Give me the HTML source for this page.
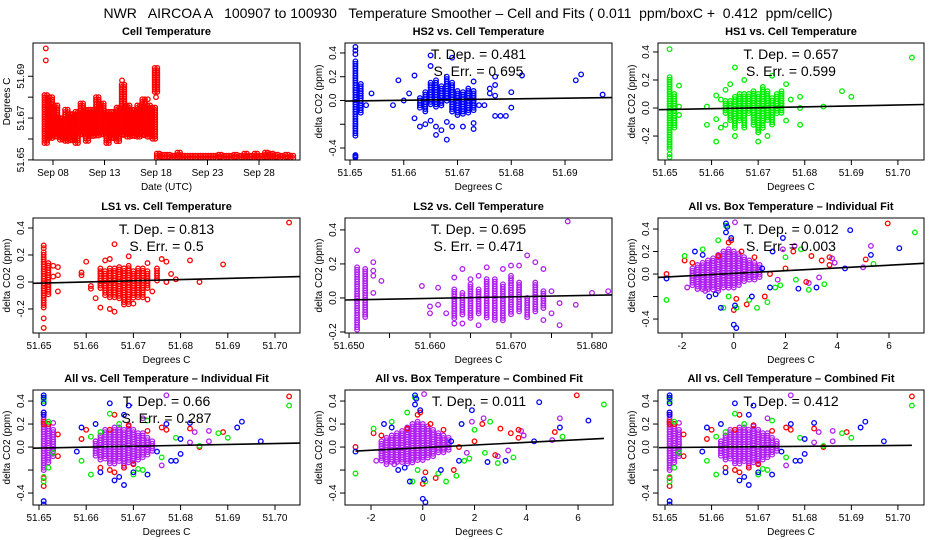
<!DOCTYPE html>
<html><head><meta charset="utf-8"><title>NWR AIRCOA Temperature Smoother</title>
<style>
html,body{margin:0;padding:0;background:#fff;}
svg{display:block;font-family:"Liberation Sans",Arial,sans-serif;}
</style></head>
<body>
<svg id="chart" width="936" height="540" viewBox="0 0 936 540" xmlns="http://www.w3.org/2000/svg">
<rect x="0" y="0" width="936" height="540" fill="#fff"/>
<text x="468" y="18" text-anchor="middle" font-size="14" style="white-space:pre" xml:space="preserve">NWR   AIRCOA A   100907 to 100930   Temperature Smoother – Cell and Fits ( 0.011  ppm/boxC +  0.412  ppm/cellC)</text>
</svg>
<script>
// ---------- DATA ----------
const cellTempCols = [[7.3,51.657,51.681],[7.8,51.660,51.680],[8.3,51.660,51.676],[8.8,51.659,51.670],[9.3,51.658,51.674],[9.8,51.659,51.672],[10.3,51.658,51.673],[10.8,51.661,51.677],[11.3,51.658,51.674],[11.8,51.661,51.674],[12.3,51.661,51.680],[12.8,51.662,51.677],[13.3,51.658,51.673],[13.8,51.660,51.673],[14.3,51.658,51.675],[14.8,51.661,51.686],[15.3,51.660,51.676],[15.8,51.661,51.674],[16.3,51.660,51.676],[16.8,51.661,51.679],[17.3,51.660,51.676],[17.8,51.660,51.675],[18.0,51.682,51.694],
[18.2,51.6505,51.653],[18.7,51.6505,51.6525],[19.2,51.6505,51.6525],[19.7,51.6505,51.652],[20.2,51.6505,51.6535],[20.7,51.6505,51.652],[21.2,51.6505,51.652],[21.7,51.6505,51.652],[22.2,51.6505,51.652],[22.7,51.6505,51.652],[23.2,51.6505,51.652],[23.7,51.6505,51.652],[24.2,51.6505,51.6525],[24.7,51.6505,51.652],[25.2,51.6505,51.652],[25.7,51.6505,51.6525],[26.2,51.6505,51.652],[26.7,51.6505,51.653],[27.2,51.6505,51.652],[27.7,51.6505,51.653],[28.2,51.6505,51.652],[28.7,51.6505,51.6535],[29.2,51.6505,51.653],[29.7,51.6505,51.6525],[30.2,51.6505,51.652],[30.7,51.6505,51.6525],[31.2,51.6505,51.652]];
const cellTempPts = [[7.3,51.7033],[7.3,51.6976],[7.6,51.661],[18.0,51.680],[17.2,51.679],[14.7,51.688]];

const hs2Cols = [[51.651,-0.30,0.33],[51.652,-0.12,0.14],[51.663,-0.08,0.02],[51.664,-0.10,0.07],[51.665,-0.05,0.15],[51.666,-0.06,0.17],[51.667,-0.05,0.12],[51.668,-0.02,0.20],[51.669,-0.10,0.15],[51.670,-0.13,0.08],[51.671,-0.13,0.07],[51.672,-0.12,0.10],[51.673,-0.10,0.08]];
const hs2Pts = [[51.651,0.45],[51.651,0.42],[51.651,0.39],[51.651,-0.46],[51.651,-0.48],[51.651,-0.47],[51.654,0.06],[51.653,-0.04],[51.658,-0.04],[51.659,0.17],[51.660,0.0],[51.661,0.06],[51.662,0.21],[51.662,-0.15],[51.663,-0.22],[51.664,-0.2],[51.665,0.38],[51.665,0.29],[51.665,-0.17],[51.666,-0.22],[51.666,-0.29],[51.667,-0.25],[51.668,-0.33],[51.668,-0.18],[51.669,0.36],[51.669,-0.22],[51.671,-0.22],[51.673,-0.19],[51.673,-0.24],[51.673,0.16],[51.675,-0.04],[51.676,0.10],[51.677,0.20],[51.677,0.13],[51.677,-0.13],[51.678,-0.13],[51.679,-0.13],[51.680,0.07],[51.680,-0.06],[51.682,0.21],[51.692,0.17],[51.693,0.22],[51.697,0.05],[51.677,0.04],[51.676,0.06],[51.674,-0.04]];
const hs2FitX = [51.649,51.6987];
const hs2FitY = [-0.005,0.025];

const hs1Cols = [[51.651,-0.30,0.22],[51.652,-0.15,0.10],[51.663,-0.05,0.05],[51.664,-0.10,0.05],[51.665,-0.15,0.08],[51.666,-0.10,0.10],[51.667,-0.15,0.10],[51.668,-0.05,0.10],[51.669,-0.12,0.12],[51.670,-0.18,0.10],[51.671,-0.15,0.15],[51.672,-0.10,0.12],[51.673,-0.13,0.07],[51.674,-0.05,0.10],[51.675,-0.05,0.12]];
const hs1Pts = [[51.651,0.42],[51.651,-0.33],[51.651,-0.35],[51.653,0.16],[51.653,0.01],[51.653,-0.05],[51.659,-0.12],[51.659,0.01],[51.661,-0.24],[51.661,-0.08],[51.661,0.09],[51.662,-0.14],[51.662,0.06],[51.663,0.13],[51.663,-0.12],[51.664,0.17],[51.665,0.29],[51.665,-0.20],[51.667,0.20],[51.670,-0.24],[51.672,-0.20],[51.673,0.23],[51.676,0.17],[51.676,-0.09],[51.677,0.06],[51.679,0.08],[51.679,-0.12],[51.679,0.0],[51.684,0.01],[51.688,0.12],[51.690,0.08],[51.703,0.36]];
const hs1FitX = [51.6487,51.7055];
const hs1FitY = [-0.012,0.025];

const ls1Cols = [[51.651,-0.20,0.22],[51.652,-0.10,0.14],[51.663,-0.05,0.08],[51.664,-0.10,0.08],[51.665,-0.12,0.10],[51.666,-0.12,0.10],[51.667,-0.13,0.11],[51.668,-0.17,0.10],[51.669,-0.17,0.12],[51.670,-0.12,0.08],[51.671,-0.12,0.10],[51.672,-0.13,0.10],[51.673,-0.05,0.08],[51.675,0.0,0.10]];
const ls1Pts = [[51.651,0.27],[51.651,0.25],[51.651,-0.27],[51.651,-0.34],[51.653,0.12],[51.653,0.04],[51.654,0.11],[51.654,0.05],[51.654,-0.07],[51.659,0.07],[51.659,0.05],[51.660,0.15],[51.661,-0.03],[51.661,-0.05],[51.662,-0.12],[51.663,-0.19],[51.663,0.10],[51.664,0.16],[51.665,0.17],[51.665,-0.20],[51.666,-0.22],[51.666,0.28],[51.669,0.19],[51.670,-0.16],[51.673,-0.13],[51.673,0.14],[51.674,-0.07],[51.676,0.17],[51.677,0.15],[51.677,0.0],[51.678,0.06],[51.679,0.02],[51.682,0.16],[51.684,0.0],[51.689,0.13],[51.703,0.44]];
const ls1FitX = [51.6487,51.7055];
const ls1FitY = [-0.01,0.04];

const ls2Cols = [[51.651,-0.20,0.18],[51.652,-0.12,0.17],[51.663,-0.12,0.05],[51.664,-0.10,0.03],[51.665,-0.13,0.08],[51.666,-0.10,0.05],[51.667,-0.12,0.11],[51.668,-0.13,0.11],[51.669,-0.14,0.08],[51.670,-0.10,0.13],[51.671,-0.08,0.09],[51.672,-0.12,0.0],[51.673,-0.09,0.09],[51.674,-0.06,0.04]];
const ls2Pts = [[51.651,0.28],[51.653,0.21],[51.653,0.16],[51.653,0.13],[51.653,0.03],[51.654,0.10],[51.659,0.07],[51.660,-0.05],[51.660,-0.09],[51.661,-0.04],[51.661,0.06],[51.662,-0.09],[51.663,0.12],[51.663,-0.15],[51.664,0.17],[51.664,-0.15],[51.665,0.11],[51.666,0.13],[51.666,-0.16],[51.667,0.18],[51.669,0.17],[51.670,0.19],[51.671,0.19],[51.672,0.25],[51.673,0.21],[51.674,0.17],[51.674,-0.13],[51.675,0.04],[51.675,-0.09],[51.676,-0.16],[51.676,-0.03],[51.677,0.45],[51.678,-0.04],[51.680,0.03],[51.682,0.04],[51.683,0.13],[51.686,0.14],[51.686,0.05]];
const ls2FitX = [51.6495,51.6825];
const ls2FitY = [-0.012,0.018];

const boxPurpleCols = [[-1.6,-0.12,0.05],[-1.4,-0.15,0.08],[-1.2,-0.15,0.10],[-1.0,-0.15,0.12],[-0.8,-0.15,0.14],[-0.6,-0.15,0.17],[-0.4,-0.14,0.20],[-0.2,-0.13,0.22],[0.0,-0.12,0.20],[0.2,-0.10,0.18],[0.4,-0.08,0.15],[0.6,-0.06,0.12],[0.8,-0.05,0.10],[1.0,-0.03,0.08]];
const boxBlue = [[-2.6,-0.04],[-1.5,0.20],[-1.2,0.17],[-0.95,-0.20],[-0.5,-0.30],[-0.3,0.45],[-0.25,0.42],[-0.3,0.37],[-0.1,0.32],[0.0,-0.45],[0.1,-0.48],[0.05,-0.28],[1.5,0.20],[1.9,0.32],[2.5,-0.13],[3.2,-0.12],[4.3,0.05],[4.5,0.39],[5.3,0.17],[6.4,0.23],[0.7,-0.20],[1.4,-0.12],[-0.7,-0.18],[1.1,0.05]];
const boxGreen = [[-2.6,-0.23],[-1.9,0.16],[-1.2,0.22],[-0.6,0.30],[-0.3,0.43],[-0.4,-0.30],[0.1,-0.30],[0.9,-0.30],[1.3,-0.25],[1.6,-0.12],[2.0,0.15],[2.6,0.22],[2.9,-0.14],[3.5,-0.09],[5.4,0.09],[7.0,0.37],[0.6,-0.23],[1.8,-0.10],[-0.2,-0.20],[2.4,-0.05]];
const boxRed = [[-2.6,0.0],[-1.9,0.12],[-1.6,0.10],[-0.6,0.16],[-0.2,0.28],[-0.1,0.30],[0.0,-0.32],[0.1,-0.22],[0.5,-0.27],[0.8,0.15],[1.2,-0.20],[2.0,0.05],[2.3,0.20],[3.0,0.16],[3.4,0.12],[3.7,0.15],[3.7,0.08],[5.1,0.13],[5.95,0.45],[2.8,-0.07],[0.3,0.20],[1.4,0.0]];
const boxMagenta = [[-1.8,-0.12],[-1.1,-0.15],[0.05,0.46],[2.35,0.25],[2.9,-0.08],[3.3,-0.03],[3.8,0.14],[3.9,0.10],[5.0,0.06],[5.3,0.25],[1.9,0.22],[1.7,-0.05]];
const boxIndFitX = [-2.928,7.353];
const boxIndFitY = [-0.03,0.095];
const boxComFitX = [-2.6,7.0];
const boxComFitY = [-0.035,0.075];

const cellPurpleCols = [[51.651,-0.22,0.30],[51.652,-0.15,0.20],[51.653,-0.08,0.15],[51.662,-0.08,0.05],[51.663,-0.12,0.10],[51.664,-0.12,0.15],[51.665,-0.15,0.15],[51.666,-0.15,0.17],[51.667,-0.13,0.17],[51.668,-0.18,0.15],[51.669,-0.15,0.18],[51.670,-0.15,0.15],[51.671,-0.13,0.12],[51.672,-0.10,0.12],[51.673,-0.08,0.08],[51.674,-0.05,0.05]];
const cellBlue = [[51.651,0.45],[51.651,0.43],[51.651,0.38],[51.651,0.30],[51.651,0.28],[51.651,-0.47],[51.651,-0.50],[51.658,-0.04],[51.659,0.17],[51.662,0.20],[51.665,0.38],[51.666,-0.29],[51.667,-0.26],[51.668,-0.33],[51.669,0.36],[51.668,0.28],[51.670,-0.22],[51.673,-0.24],[51.677,0.20],[51.678,-0.12],[51.679,-0.12],[51.680,0.07],[51.680,-0.06],[51.682,0.21],[51.692,0.17],[51.693,0.22],[51.697,0.05],[51.663,-0.22],[51.675,-0.04]];
const cellGreen = [[51.651,0.42],[51.651,0.40],[51.651,-0.30],[51.651,-0.26],[51.652,0.22],[51.652,-0.18],[51.653,-0.05],[51.659,-0.12],[51.661,-0.24],[51.661,0.09],[51.665,0.29],[51.667,0.20],[51.670,-0.24],[51.672,-0.20],[51.673,0.23],[51.676,-0.09],[51.679,0.08],[51.684,0.01],[51.688,0.12],[51.690,0.08],[51.703,0.36],[51.663,0.13],[51.671,-0.19]];
const cellRed = [[51.651,0.22],[51.651,0.20],[51.651,-0.27],[51.651,-0.34],[51.652,0.20],[51.654,0.11],[51.654,-0.08],[51.659,0.07],[51.660,0.15],[51.663,-0.18],[51.665,-0.20],[51.666,-0.22],[51.666,0.28],[51.669,0.19],[51.668,-0.18],[51.673,0.14],[51.676,0.17],[51.677,0.15],[51.682,0.16],[51.684,0.0],[51.689,0.13],[51.703,0.44],[51.665,0.15],[51.670,-0.15]];
const cellMagenta = [[51.677,0.45],[51.672,0.25],[51.683,0.13],[51.686,0.14],[51.686,0.05],[51.682,0.04],[51.676,-0.16],[51.662,0.05],[51.653,0.21]];
const cellIndFitX = [51.6487,51.7055];
const cellIndFitY = [-0.01,0.035];
const cellComFitX = [51.6487,51.703];
const cellComFitY = [-0.005,0.015];

const dateTicks = [8,13,18,23,28];
const dateTickLabels = ["Sep 08","Sep 13","Sep 18","Sep 23","Sep 28"];
const cellTempYTicks = [51.65,51.66,51.67,51.68,51.69];
const cellTempYLabels = ["51.65","","51.67","","51.69"];
const cellXTicks6 = [51.65,51.66,51.67,51.68,51.69,51.70];
const cellXLabels6 = ["51.65","51.66","51.67","51.68","51.69","51.70"];
const cellXTicks5 = [51.65,51.66,51.67,51.68,51.69];
const cellXLabels5 = ["51.65","51.66","51.67","51.68","51.69"];
const ls2XTicks = [51.650,51.655,51.660,51.665,51.670,51.675,51.680];
const ls2XLabels = ["51.650","","51.660","","51.670","","51.680"];
const boxXTicks = [-2,0,2,4,6];
const boxXLabels = ["-2","0","2","4","6"];
const yTicksA = [-0.4,-0.2,0.0,0.2,0.4];
const yLabelsA = ["-0.4","","0.0","0.2","0.4"];
const yTicksB = [-0.2,0.0,0.2,0.4];
const yLabelsB = ["-0.2","0.0","0.2","0.4"];

// ---------- DRAWING ----------
const NS = "http://www.w3.org/2000/svg";
const svg = document.getElementById('chart');
function mk(tag, parent){ const e = document.createElementNS(NS, tag); parent.appendChild(e); return e; }

function drawPanel(p){
  const g = mk('g', svg);
  
  
  const sx = v => p.bx0 + (v - p.x0) / (p.x1 - p.x0) * (p.bx1 - p.bx0);
  const sy = v => p.by1 - (v - p.y0) / (p.y1 - p.y0) * (p.by1 - p.by0);
  const cx = (p.bx0 + p.bx1) / 2;
  const cid = p.name + '-clip';
  const cp = mk('clipPath', g); cp.setAttribute('id', cid);
  const cr = mk('rect', cp);
  cr.setAttribute('x', p.bx0); cr.setAttribute('y', p.by0); cr.setAttribute('width', p.bx1 - p.bx0); cr.setAttribute('height', p.by1 - p.by0);
  const plot = mk('g', g); plot.setAttribute('clip-path', 'url(#' + cid + ')');
  
  
  function circ(parent, x, y, color){
    const c = mk('circle', parent);
    c.setAttribute('cx', x.toFixed(1)); c.setAttribute('cy', y.toFixed(1)); c.setAttribute('r', 2.3);
    c.setAttribute('fill', 'none'); c.setAttribute('stroke', color); c.setAttribute('stroke-width', 1.3);
  }
  const half = p.colHalf || 0;
  (p.series || []).forEach(s => {
    const sg = mk('g', plot);
    
    
    (s.cols || []).forEach(c => {
      const x = sx(c[0]); const ya = sy(c[2]); const yb = sy(c[1]);
      for (let dx = -half; dx <= half + 0.01; dx += 2.6) {
        for (let y = ya; y <= yb + 0.01; y += 2.4) circ(sg, x + dx, y, s.color);
      }
    });
    (s.pts || []).forEach(pt => circ(sg, sx(pt[0]), sy(pt[1]), s.color));
  });
  if (p.fitX){
    const l = mk('line', plot);
    
    
    l.setAttribute('x1', sx(p.fitX[0])); l.setAttribute('y1', sy(p.fitY[0]));
    l.setAttribute('x2', sx(p.fitX[1])); l.setAttribute('y2', sy(p.fitY[1]));
    l.setAttribute('stroke', '#000'); l.setAttribute('stroke-width', 1.6);
  }
  const b = mk('rect', g);
  
  
  b.setAttribute('x', p.bx0); b.setAttribute('y', p.by0); b.setAttribute('width', p.bx1 - p.bx0); b.setAttribute('height', p.by1 - p.by0);
  b.setAttribute('fill', 'none'); b.setAttribute('stroke', '#000'); b.setAttribute('stroke-width', 1);
  const xa = mk('g', g);
  
  
  p.xt.forEach((t, i) => {
    const x = sx(t);
    const tl = mk('line', xa);
    tl.setAttribute('x1', x); tl.setAttribute('x2', x); tl.setAttribute('y1', p.by1); tl.setAttribute('y2', p.by1 + 5);
    tl.setAttribute('stroke', '#000');
    if (p.xl[i]){
      const tx = mk('text', xa);
      
      
      tx.setAttribute('x', x); tx.setAttribute('y', p.by1 + 16); tx.setAttribute('text-anchor', 'middle'); tx.setAttribute('font-size', 10);
      tx.textContent = p.xl[i];
    }
  });
  const xt = mk('text', xa);
  
  
  xt.setAttribute('x', cx); xt.setAttribute('y', p.by1 + 30); xt.setAttribute('text-anchor', 'middle'); xt.setAttribute('font-size', 10);
  xt.textContent = p.xtitle;
  const ya = mk('g', g);
  
  
  p.yt.forEach((t, i) => {
    const y = sy(t);
    const tl = mk('line', ya);
    tl.setAttribute('x1', p.bx0 - 5); tl.setAttribute('x2', p.bx0); tl.setAttribute('y1', y); tl.setAttribute('y2', y);
    tl.setAttribute('stroke', '#000');
    if (p.yl[i]){
      const tx = mk('text', ya);
      
      
      const lx = p.bx0 - 9;
      tx.setAttribute('x', lx); tx.setAttribute('y', y); tx.setAttribute('text-anchor', 'middle'); tx.setAttribute('font-size', 10);
      tx.setAttribute('transform', 'rotate(-90 ' + lx + ' ' + y + ')');
      tx.textContent = p.yl[i];
    }
  });
  const yt = mk('text', ya);
  
  
  const yx = p.bx0 - 23, yy = (p.by0 + p.by1) / 2;
  yt.setAttribute('x', yx); yt.setAttribute('y', yy); yt.setAttribute('text-anchor', 'middle'); yt.setAttribute('font-size', 10);
  yt.setAttribute('transform', 'rotate(-90 ' + yx + ' ' + yy + ')');
  yt.textContent = p.ytitle;
  const tt = mk('text', g);
  
  
  tt.setAttribute('x', cx); tt.setAttribute('y', p.by0 - 8); tt.setAttribute('text-anchor', 'middle'); tt.setAttribute('font-size', 11); tt.setAttribute('font-weight', 'bold');
  tt.textContent = p.title;
  (p.notes || []).forEach((n, i) => {
    const t = mk('text', g);
    
    
    t.setAttribute('x', cx); t.setAttribute('y', p.by0 + 16 + i * 17); t.setAttribute('text-anchor', 'middle'); t.setAttribute('font-size', 14);
    t.textContent = n;
  });
}

const R1 = [43,160], R2 = [218,333], R3 = [390,505];
const C1 = [33,300], C2 = [345,612], C3 = [658,924];
const CO2 = "delta CO2 (ppm)", DEG = "Degrees C";
const BL = "#0000ff", GR = "#00ee00", RD = "#ff0000", MG = "#b020f0";

drawPanel({name:'panel-cell-temperature', bx0:C1[0], bx1:C1[1], by0:R1[0], by1:R1[1], x0:6.058, x1:31.98, y0:51.64995, y1:51.7059, colHalf:1.3,
  xt:dateTicks, xl:dateTickLabels, yt:cellTempYTicks, yl:cellTempYLabels, xtitle:"Date (UTC)", ytitle:DEG, title:"Cell Temperature",
  series:[{name:'cell-temp-series', color:RD, cols:cellTempCols, pts:cellTempPts}]});
drawPanel({name:'panel-hs2', bx0:C2[0], bx1:C2[1], by0:R1[0], by1:R1[1], x0:51.64907, x1:51.69874, y0:-0.501, y1:0.484,
  xt:cellXTicks5, xl:cellXLabels5, yt:yTicksA, yl:yLabelsA, xtitle:DEG, ytitle:CO2, title:"HS2 vs. Cell Temperature",
  series:[{name:'hs2-points', color:BL, cols:hs2Cols, pts:hs2Pts}], fitX:hs2FitX, fitY:hs2FitY,
  notes:["T. Dep. =  0.481","S. Err. =  0.695"]});
drawPanel({name:'panel-hs1', bx0:C3[0], bx1:C3[1], by0:R1[0], by1:R1[1], x0:51.6485, x1:51.7056, y0:-0.371, y1:0.464,
  xt:cellXTicks6, xl:cellXLabels6, yt:yTicksB, yl:yLabelsB, xtitle:DEG, ytitle:CO2, title:"HS1 vs. Cell Temperature",
  series:[{name:'hs1-points', color:GR, cols:hs1Cols, pts:hs1Pts}], fitX:hs1FitX, fitY:hs1FitY,
  notes:["T. Dep. =  0.657","S. Err. =  0.599"]});
drawPanel({name:'panel-ls1', bx0:C1[0], bx1:C1[1], by0:R2[0], by1:R2[1], x0:51.64873, x1:51.7053, y0:-0.378, y1:0.474,
  xt:cellXTicks6, xl:cellXLabels6, yt:yTicksB, yl:yLabelsB, xtitle:DEG, ytitle:CO2, title:"LS1 vs. Cell Temperature",
  series:[{name:'ls1-points', color:RD, cols:ls1Cols, pts:ls1Pts}], fitX:ls1FitX, fitY:ls1FitY,
  notes:["T. Dep. =  0.813","S. Err. =  0.5"]});
drawPanel({name:'panel-ls2', bx0:C2[0], bx1:C2[1], by0:R2[0], by1:R2[1], x0:51.6495, x1:51.68247, y0:-0.206, y1:0.47,
  xt:ls2XTicks, xl:ls2XLabels, yt:yTicksB, yl:yLabelsB, xtitle:DEG, ytitle:CO2, title:"LS2 vs. Cell Temperature",
  series:[{name:'ls2-points', color:MG, cols:ls2Cols, pts:ls2Pts}], fitX:ls2FitX, fitY:ls2FitY,
  notes:["T. Dep. =  0.695","S. Err. =  0.471"]});
const boxSeries = [{name:'ls2-points', color:MG, cols:boxPurpleCols, pts:boxMagenta},{name:'ls1-points', color:RD, pts:boxRed},{name:'hs1-points', color:GR, pts:boxGreen},{name:'hs2-points', color:BL, pts:boxBlue}];
const cellSeries = [{name:'ls2-points', color:MG, cols:cellPurpleCols, pts:cellMagenta},{name:'ls1-points', color:RD, pts:cellRed},{name:'hs1-points', color:GR, pts:cellGreen},{name:'hs2-points', color:BL, pts:cellBlue}];
drawPanel({name:'panel-all-box-individual', bx0:C3[0], bx1:C3[1], by0:R2[0], by1:R2[1], x0:-2.928, x1:7.353, y0:-0.524, y1:0.498,
  xt:boxXTicks, xl:boxXLabels, yt:yTicksA, yl:yLabelsA, xtitle:DEG, ytitle:CO2, title:"All vs. Box Temperature – Individual Fit",
  series:boxSeries, fitX:boxIndFitX, fitY:boxIndFitY, notes:["T. Dep. =  0.012","S. Err. =  0.003"]});
drawPanel({name:'panel-all-cell-individual', bx0:C1[0], bx1:C1[1], by0:R3[0], by1:R3[1], x0:51.64873, x1:51.7053, y0:-0.504, y1:0.496,
  xt:cellXTicks6, xl:cellXLabels6, yt:yTicksA, yl:yLabelsA, xtitle:DEG, ytitle:CO2, title:"All vs. Cell Temperature – Individual Fit",
  series:cellSeries, fitX:cellIndFitX, fitY:cellIndFitY, notes:["T. Dep. =  0.66","S. Err. =  0.287"]});
drawPanel({name:'panel-all-box-combined', bx0:C2[0], bx1:613, by0:R3[0], by1:R3[1], x0:-3.005, x1:7.35, y0:-0.504, y1:0.496,
  xt:boxXTicks, xl:boxXLabels, yt:yTicksA, yl:yLabelsA, xtitle:DEG, ytitle:CO2, title:"All vs. Box Temperature – Combined Fit",
  series:boxSeries, fitX:boxComFitX, fitY:boxComFitY, notes:["T. Dep. =  0.011"]});
drawPanel({name:'panel-all-cell-combined', bx0:C3[0], bx1:C3[1], by0:R3[0], by1:R3[1], x0:51.6485, x1:51.7056, y0:-0.504, y1:0.496,
  xt:cellXTicks6, xl:cellXLabels6, yt:yTicksA, yl:yLabelsA, xtitle:DEG, ytitle:CO2, title:"All vs. Cell Temperature – Combined Fit",
  series:cellSeries, fitX:cellComFitX, fitY:cellComFitY, notes:["T. Dep. =  0.412"]});
</script>
</body></html>
